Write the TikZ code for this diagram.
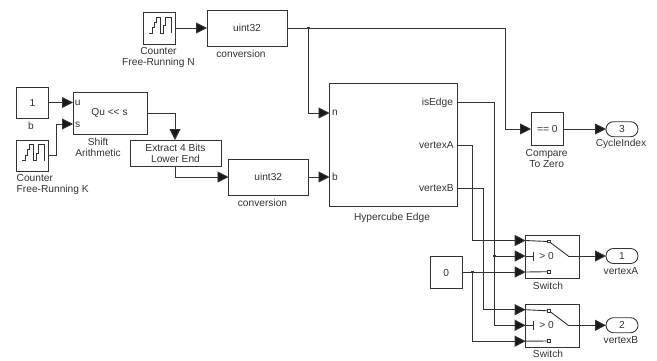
\documentclass[tikz,border=0pt]{standalone}
\usepackage{fontspec}
\setmainfont{Liberation Sans}
\usetikzlibrary{arrows.meta}
\definecolor{wire}{gray}{0.2}
\definecolor{txt}{gray}{0.2}
\tikzset{
  x=1pt,y=-1pt,
  every node/.style={text=txt,font=\fontsize{10.2}{11}\selectfont,inner sep=0pt,outer sep=0pt},
  blockbox/.style={draw=wire,line width=0.9pt,fill=white},
  conn/.style={draw=wire,line width=0.9pt,-{Triangle[length=11pt,width=11pt,fill=black!90]}},
  plainwire/.style={draw=wire,line width=0.9pt},
  dotjunction/.style={fill=wire,draw=none,minimum size=2.6pt},
  outport/.style={draw=wire,line width=0.9pt,rounded corners=7.4pt,fill=white},
  contact/.style={draw=wire,line width=0.8pt,fill=white,minimum size=2.6pt},
  lbl/.style={align=center,anchor=center}
}
\newcommand{\blockat}[6]{% name, x0,y0,x1,y1, text
  \path[blockbox] (#2,#3) rectangle (#4,#5);
  \node[lbl] (#1) at ({(#2+#4)/2},{(#3+#5)/2}) {#6};
}
\newcommand{\staircase}[2]{% origin = box top-left
  \draw[wire,line width=0.8pt,shift={(#1,#2)}]
    (5.5,20.5) -- (9,20.5) -- (9,15) -- (11,15) -- (11,9.5) -- (13,9.5) -- (13,4.5) -- (16.5,4.5) -- (16.5,20.5) -- (20,20.5) -- (20,13) -- (22,13) -- (22,4.5) -- (27.5,4.5) -- (27.5,20.5);
}
\begin{document}
\begin{tikzpicture}
\useasboundingbox (0,0) rectangle (657,360);
% blocks
\path[blockbox] (143.5,12.5) rectangle (175.5,44); \staircase{143.5}{12.5}
\coordinate (cntN) at (175.5,28);
\path[blockbox] (16.5,140) rectangle (48.5,171); \staircase{16.5}{140}
\coordinate (cntK) at (48.5,155);
\blockat{u1}{207}{10}{287}{46}{uint32}
\blockat{one}{16.5}{87}{48.5}{118}{1}
\path[blockbox] (73,92) rectangle (147.5,134);
\node[lbl] (sh) at (109.5,113) {Qu {<}{<} s};
\node[lbl] (shu) at (77.7,102.5) {u};
\node[lbl] (shs) at (77.7,124.5) {s};
\blockat{ex}{130}{140}{221}{166}{Extract 4 Bits\\Lower End}
\blockat{u2}{228.5}{159}{308}{195}{uint32}
\path[blockbox] (329.5,83.5) rectangle (457,206.7);
\node[lbl] (hn) at (335,113) {n};
\node[lbl] (hb) at (335,177) {b};
\node[anchor=east] (hi) at (453,102.5) {isEdge};
\node[anchor=east] (ha) at (453.7,145) {vertexA};
\node[anchor=east] (hv) at (453.7,188) {vertexB};
\blockat{cz}{531}{112.7}{563.5}{145}{== 0}
\blockat{zero}{430.3}{256.7}{462.3}{288.3}{0}
\path[outport] (606,121.7) rectangle (638,136.7); \node[lbl] (o3) at (622,129.2) {3};
\path[outport] (606,248.5) rectangle (638,263.5); \node[lbl] (o1) at (622,256) {1};
\path[outport] (606,317.7) rectangle (638,332.7); \node[lbl] (o2) at (622,325.2) {2};
% switches
\path[blockbox] (525.7,235) rectangle (579.3,278.3);
\path[blockbox] (525.7,304.3) rectangle (579.3,347.7);
\node[contact] (s1a) at (549,241.5) {};
\node[contact] (s1c) at (549,271.7) {};
\node[contact] (s2a) at (549,310.8) {};
\node[contact] (s2c) at (549,341) {};
\node[lbl] (s1t) at (546.5,256) {> 0};
\node[lbl] (s2t) at (546.5,325.3) {> 0};
\coordinate (s1p) at (568.3,256);
\coordinate (s2p) at (568.3,325.3);
\draw[plainwire] (525.7,240.5) -- (s1a.west);
\draw[plainwire] (525.7,272) -- (s1c.west);
\draw[plainwire] (525.7,309.7) -- (s2a.west);
\draw[plainwire] (525.7,341.2) -- (s2c.west);
\draw[plainwire] (525.7,256) -- (533.3,256) (533.3,251.5) -- (533.3,260.5);
\draw[plainwire] (525.7,325.3) -- (533.3,325.3) (533.3,320.8) -- (533.3,329.8);
\draw[plainwire] (s1a) -- (s1p);
\draw[plainwire] (s2a) -- (s2p);
% labels
\node[lbl] (l1) at (158.5,57.5) {Counter\\Free-Running N};
\node[lbl] (l2) at (241,53.5) {conversion};
\node[lbl] (l3) at (31,125.5) {b};
\node[lbl] (l4) at (98,147.5) {Shift\\Arithmetic};
\node[anchor=west,align=left] (l5) at (16.7,184.5) {Counter\\Free-Running K};
\node[lbl] (l6) at (262.5,202.5) {conversion};
\node[lbl] (l7) at (392,217.5) {Hypercube Edge};
\node[lbl] (l8) at (546.7,158) {Compare\\To Zero};
\node[lbl] (l9) at (621,144) {CycleIndex};
\node[lbl] (l10) at (548,285.5) {Switch};
\node[lbl] (l11) at (548,354) {Switch};
\node[lbl] (l12) at (621,271) {vertexA};
\node[lbl] (l13) at (621,340) {vertexB};
% junctions
\node[dotjunction] (j1) at (308.3,28) {};
\node[dotjunction] (j2) at (494.3,256) {};
\node[dotjunction] (j3) at (472.7,272) {};
% port coordinates
\coordinate (u1o) at (287,28);
\coordinate (u1i) at (207,28);
\coordinate (hbi) at (329.5,177);
\coordinate (hni) at (329.5,113);
\coordinate (hio) at (457,102.5);
\coordinate (hao) at (457,145);
\coordinate (hvo) at (457,188);
\coordinate (czi) at (531,129);
\coordinate (czo) at (563.5,129);
\coordinate (o3i) at (606,129);
\coordinate (s1i1) at (525.7,240.5);
\coordinate (s1i2) at (525.7,256);
\coordinate (s1i3) at (525.7,272);
\coordinate (s2i1) at (525.7,309.7);
\coordinate (s2i2) at (525.7,325.3);
\coordinate (s2i3) at (525.7,341.2);
\coordinate (o1i) at (606,256);
\coordinate (o2i) at (606,325.3);
\coordinate (oneo) at (48.5,102.5);
\coordinate (shui) at (73,102.5);
\coordinate (shsi) at (73,124);
\coordinate (sho) at (147.5,113);
\coordinate (exi) at (175,140);
\coordinate (exo) at (175,166);
\coordinate (u2i) at (228.5,177);
\coordinate (u2o) at (308,177);
\coordinate (zo) at (462.3,272);
% connectors
\draw[conn] (cntN) -- (u1i);
\draw[plainwire] (u1o) -- (j1);
\draw[conn] (j1) -- (505,28) -- (505,129) -- (czi);
\draw[conn] (j1) |- (hni);
\draw[conn] (oneo) -- (shui);
\draw[conn] (cntK) -- (56,155) -- (56,124) -- (shsi);
\draw[conn] (sho) -| (exi);
\draw[conn] (exo) |- (u2i);
\draw[conn] (u2o) -- (hbi);
\draw[conn] (czo) -- (o3i);
\draw[conn] (hao) -- (472.7,145) -- (472.7,240.5) -- (s1i1);
\draw[conn] (hvo) -- (483.3,188) -- (483.3,309.7) -- (s2i1);
\draw[conn] (hio) -- (494.3,102.5) -- (494.3,325.3) -- (s2i2);
\draw[conn] (j2) -- (s1i2);
\draw[plainwire] (zo) -- (j3);
\draw[conn] (j3) -- (s1i3);
\draw[conn] (j3) |- (s2i3);
\draw[conn] (s1p) -- (o1i);
\draw[conn] (s2p) -- (o2i);
\end{tikzpicture}
\end{document}
